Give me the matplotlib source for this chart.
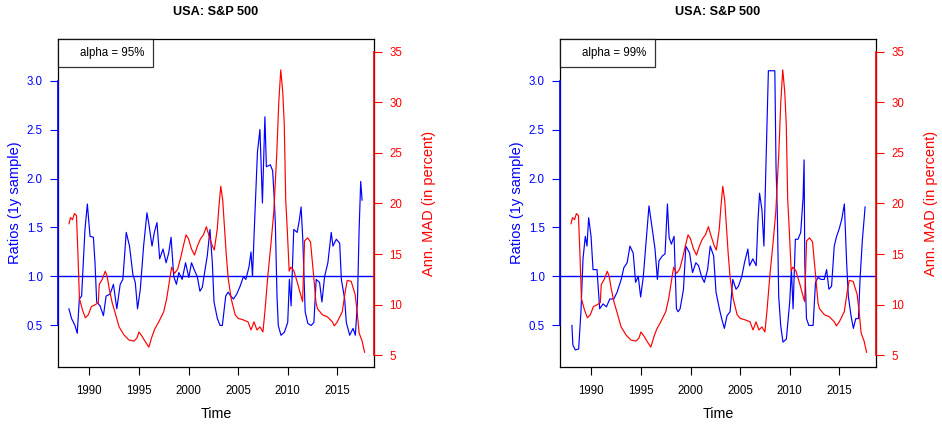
import matplotlib
matplotlib.use("Agg")
import matplotlib.pyplot as plt
from matplotlib.lines import Line2D

plt.rcParams['font.family'] = ['Liberation Sans', 'DejaVu Sans']

# annualised MAD (in percent), same series in both panels
mad_years = [1987.95, 1988.1, 1988.3, 1988.5, 1988.7, 1988.85, 1989.0, 1989.3, 1989.6, 1989.9,
             1990.2, 1990.6, 1990.9, 1991.0, 1991.3, 1991.6, 1991.8, 1992.0, 1992.3, 1992.6,
             1993.0, 1993.5, 1994.0, 1994.5, 1994.8, 1995.0, 1995.3, 1995.6, 1996.0, 1996.3,
             1996.6, 1997.0, 1997.5, 1997.8, 1998.1, 1998.3, 1998.6, 1998.9, 1999.2, 1999.5,
             1999.75, 2000.0, 2000.3, 2000.6, 2000.9, 2001.2, 2001.5, 2001.8, 2002.1, 2002.4,
             2002.6, 2002.9, 2003.05, 2003.25, 2003.45, 2003.6, 2003.8, 2004.0, 2004.3, 2004.7,
             2005.0, 2005.5, 2006.0, 2006.3, 2006.6, 2006.9, 2007.2, 2007.5, 2007.7, 2008.0,
             2008.3, 2008.6, 2008.9, 2009.1, 2009.3, 2009.5, 2009.65, 2009.8, 2009.95, 2010.15,
             2010.3, 2010.6, 2011.0, 2011.3, 2011.5, 2011.7, 2012.0, 2012.3, 2012.6, 2012.85,
             2013.0, 2013.5, 2014.0, 2014.5, 2014.7, 2015.0, 2015.5, 2015.8, 2016.0, 2016.4,
             2016.8, 2017.0, 2017.2, 2017.5, 2017.75]
mad_values = [18.0, 18.6, 18.4, 19.0, 18.8, 15.0, 10.6, 9.5, 8.7, 9.0,
              9.8, 10.0, 10.2, 12.0, 12.5, 13.3, 12.8, 11.6, 10.2, 9.2,
              7.8, 7.0, 6.5, 6.4, 6.7, 7.3, 6.9, 6.4, 5.8, 6.8,
              7.6, 8.3, 9.3, 10.6, 12.5, 13.7, 13.1, 13.5, 14.6, 15.9,
              16.9, 16.5, 15.5, 14.9, 15.8, 16.5, 16.9, 17.7, 16.7, 15.8,
              15.4, 17.5, 19.5, 21.7, 20.3, 18.0, 15.0, 12.6, 10.6, 9.0,
              8.65, 8.5, 8.3, 7.5, 8.3, 7.5, 7.8, 7.3, 9.3, 12.9,
              15.9, 19.2, 25.0, 30.0, 33.2, 31.0, 27.9, 20.3, 17.5, 13.3,
              13.7, 13.4, 12.1, 11.0, 10.3, 16.3, 16.6, 16.2, 13.0, 10.2,
              9.6, 9.0, 8.8, 8.3, 7.9, 8.3, 9.3, 11.3, 12.4, 12.3,
              11.0, 9.3, 7.2, 6.4, 5.3]

# ratios, alpha = 95%
r95_years = [1987.94, 1988.21, 1988.55, 1988.78, 1988.99, 1989.22, 1989.56, 1989.8, 1990.07, 1990.41,
             1990.57, 1990.74, 1991.08, 1991.42, 1991.69, 1992.09, 1992.43, 1992.77, 1993.11, 1993.38,
             1993.72, 1994.05, 1994.39, 1994.63, 1994.86, 1995.14, 1995.47, 1995.81, 1995.98, 1996.32,
             1996.55, 1996.82, 1997.09, 1997.43, 1997.74, 1998.0, 1998.24, 1998.51, 1998.78, 1999.02,
             1999.36, 1999.7, 2000.03, 2000.3, 2000.61, 2000.88, 2001.15, 2001.39, 2001.62, 2001.89,
             2002.16, 2002.4, 2002.57, 2002.91, 2003.18, 2003.41, 2003.75, 2003.99, 2004.26, 2004.53,
             2004.86, 2005.2, 2005.54, 2005.78, 2006.1, 2006.3, 2006.45, 2006.6, 2006.8, 2006.95,
             2007.2, 2007.45, 2007.7, 2007.85, 2008.24, 2008.48, 2008.65, 2008.75, 2008.92, 2009.05,
             2009.32, 2009.66, 2010.0, 2010.17, 2010.34, 2010.61, 2010.95, 2011.18, 2011.35, 2011.52,
             2011.76, 2012.03, 2012.36, 2012.64, 2012.87, 2013.21, 2013.45, 2013.72, 2014.05, 2014.39,
             2014.56, 2014.9, 2015.24, 2015.41, 2015.74, 2015.91, 2016.25, 2016.59, 2016.82, 2017.03,
             2017.2, 2017.36, 2017.5]
r95_values = [0.67, 0.57, 0.5, 0.42, 0.77, 0.8, 1.48, 1.74, 1.41, 1.4,
              1.14, 0.74, 0.7, 0.6, 0.8, 0.82, 0.92, 0.67, 0.92, 0.97,
              1.45, 1.31, 1.02, 0.94, 0.67, 0.87, 1.31, 1.65, 1.55, 1.31,
              1.45, 1.55, 1.18, 1.28, 1.14, 1.24, 1.4, 1.0, 0.92, 1.04,
              0.97, 1.14, 0.99, 1.14, 1.06, 1.0, 0.85, 0.89, 1.04, 1.21,
              1.48, 1.14, 0.74, 0.57, 0.5, 0.5, 0.8, 0.84, 0.8, 0.77,
              0.82, 0.9, 1.0, 0.97, 1.1, 1.25, 1.0, 1.4, 1.9, 2.27,
              2.5, 1.75, 2.63, 2.12, 2.14, 2.08, 1.78, 1.55, 0.8, 0.5,
              0.4, 0.43, 0.53, 0.97, 0.7, 1.48, 1.45, 1.58, 1.71, 1.38,
              0.64, 0.52, 0.5, 0.53, 0.97, 0.94, 0.74, 1.0, 1.14, 1.45,
              1.31, 1.38, 1.34, 0.97, 0.77, 0.53, 0.4, 0.47, 0.4, 0.74,
              1.48, 1.97, 1.78]

# ratios, alpha = 99%
r99_years = [1988.04, 1988.14, 1988.38, 1988.72, 1988.95, 1989.16, 1989.39, 1989.56, 1989.73, 1989.97,
             1990.17, 1990.57, 1990.84, 1991.18, 1991.52, 1991.86, 1992.26, 1992.6, 1993.01, 1993.28,
             1993.61, 1993.89, 1994.22, 1994.46, 1994.73, 1994.97, 1995.24, 1995.54, 1995.81, 1996.15,
             1996.42, 1996.66, 1996.82, 1997.16, 1997.43, 1997.67, 1997.84, 1998.07, 1998.34, 1998.58,
             1998.75, 1998.95, 1999.29, 1999.53, 1999.9, 2000.2, 2000.54, 2000.81, 2001.11, 2001.39,
             2001.72, 2001.99, 2002.33, 2002.57, 2002.91, 2003.14, 2003.41, 2003.68, 2003.99, 2004.26,
             2004.59, 2004.83, 2005.17, 2005.44, 2005.78, 2005.95, 2006.28, 2006.62, 2006.79, 2006.96,
             2007.2, 2007.4, 2007.6, 2007.85, 2008.5, 2008.62, 2008.75, 2008.89, 2009.09, 2009.32,
             2009.66, 2010.0, 2010.17, 2010.34, 2010.57, 2010.84, 2011.11, 2011.35, 2011.45, 2011.52,
             2011.69, 2011.93, 2012.36, 2012.6, 2012.87, 2013.14, 2013.48, 2013.72, 2013.95, 2014.22,
             2014.49, 2014.73, 2014.97, 2015.24, 2015.51, 2015.74, 2015.91, 2016.18, 2016.42, 2016.66,
             2016.93, 2017.09, 2017.33, 2017.53, 2017.6]
r99_values = [0.5, 0.3, 0.25, 0.26, 0.64, 1.18, 1.41, 1.31, 1.6, 1.41,
              1.07, 1.07, 0.67, 0.72, 0.69, 0.77, 0.77, 0.84, 0.97, 1.09,
              1.14, 1.31, 1.24, 0.94, 1.0, 0.79, 1.0, 1.38, 1.72, 1.48,
              1.28, 0.97, 1.16, 1.21, 1.23, 1.74, 1.4, 1.33, 1.41, 0.67,
              0.64, 0.67, 0.87, 1.31, 1.24, 1.04, 1.14, 1.11, 1.0, 0.94,
              1.07, 1.31, 1.21, 0.84, 0.67, 0.57, 0.47, 0.6, 0.64, 0.97,
              0.87, 0.9, 1.0, 1.14, 1.28, 1.11, 1.18, 1.11, 1.55, 1.85,
              1.68, 1.31, 2.12, 3.1, 3.1, 2.12, 1.65, 0.8, 0.5, 0.33,
              0.36, 0.74, 1.07, 0.67, 1.38, 1.38, 1.45, 1.81, 2.19, 1.14,
              0.57, 0.5, 0.5, 0.94, 0.99, 0.97, 0.97, 1.07, 0.87, 0.9,
              1.31, 1.41, 1.48, 1.58, 1.74, 1.14, 0.8, 0.6, 0.47, 0.57,
              0.57, 0.97, 1.38, 1.62, 1.71]

x_ticks = [1990, 1995, 2000, 2005, 2010, 2015]
ratio_ticks = [0.5, 1.0, 1.5, 2.0, 2.5, 3.0]
mad_ticks = [5, 10, 15, 20, 25, 30, 35]

panels = [(r95_years, r95_values, "alpha = 95%", 58),
          (r99_years, r99_values, "alpha = 99%", 560)]

W, H = 942, 425
fig = plt.figure(figsize=(W / 100, H / 100), dpi=100)

for yrs, vals, lab, x0 in panels:
    ax = fig.add_axes([x0 / W, 1 - 367 / H, 316 / W, 328 / H])
    ax.plot(yrs, vals, color="blue", lw=0.85)
    ax.axhline(1.0, color="blue", lw=1.0)
    ax.set_xlim(1986.84, 2018.7)
    ax.set_ylim(0.076, 3.424)
    ax.set_xticks(x_ticks)
    ax.set_xticklabels([str(t) for t in x_ticks])
    ax.set_yticks(ratio_ticks)
    ax.set_yticklabels(["%.1f" % t for t in ratio_ticks])
    ax.tick_params(axis="x", direction="out", length=6, width=0.8, labelsize=8.3, pad=7)
    ax.tick_params(axis="y", direction="out", length=6, width=0.8, labelsize=8.3, pad=5,
                   colors="blue")
    ax.set_xlabel("Time", fontsize=10.3, labelpad=7)
    ax.set_ylabel("Ratios (1y sample)", fontsize=10.5, color="blue", labelpad=3)
    ax.set_title("USA: S&P 500", fontsize=9.2, fontweight="bold", pad=17)
    for s in ax.spines.values():
        s.set_color("black")
        s.set_linewidth(0.9)
    ax.plot([0, 0], [ratio_ticks[0], ratio_ticks[-1]], color="blue", lw=1.2,
            transform=ax.get_yaxis_transform(), clip_on=False, zorder=5)

    leg = ax.legend(handles=[Line2D([], [], alpha=0)], labels=[lab], loc="upper left",
                    borderaxespad=0, fancybox=False, edgecolor="black", fontsize=8.3,
                    handlelength=0.8, handletextpad=0.45, borderpad=0.7)
    leg.get_frame().set_linewidth(0.9)

    ax2 = ax.twinx()
    ax2.plot(mad_years, mad_values, color="red", lw=0.85)
    ax2.set_ylim(3.84, 36.25)
    ax2.set_yticks(mad_ticks)
    ax2.set_yticklabels([str(t) for t in mad_ticks])
    ax2.tick_params(axis="y", direction="out", length=6, width=0.8, labelsize=8.3, pad=5,
                    colors="red")
    ax2.set_ylabel("Ann. MAD (in percent)", fontsize=10.5, color="red", labelpad=14)
    for s in ax2.spines.values():
        s.set_visible(False)
    ax2.plot([1, 1], [mad_ticks[0], mad_ticks[-1]], color="red", lw=1.2,
             transform=ax2.get_yaxis_transform(), clip_on=False, zorder=5)

fig.savefig("out.png", dpi=100)
